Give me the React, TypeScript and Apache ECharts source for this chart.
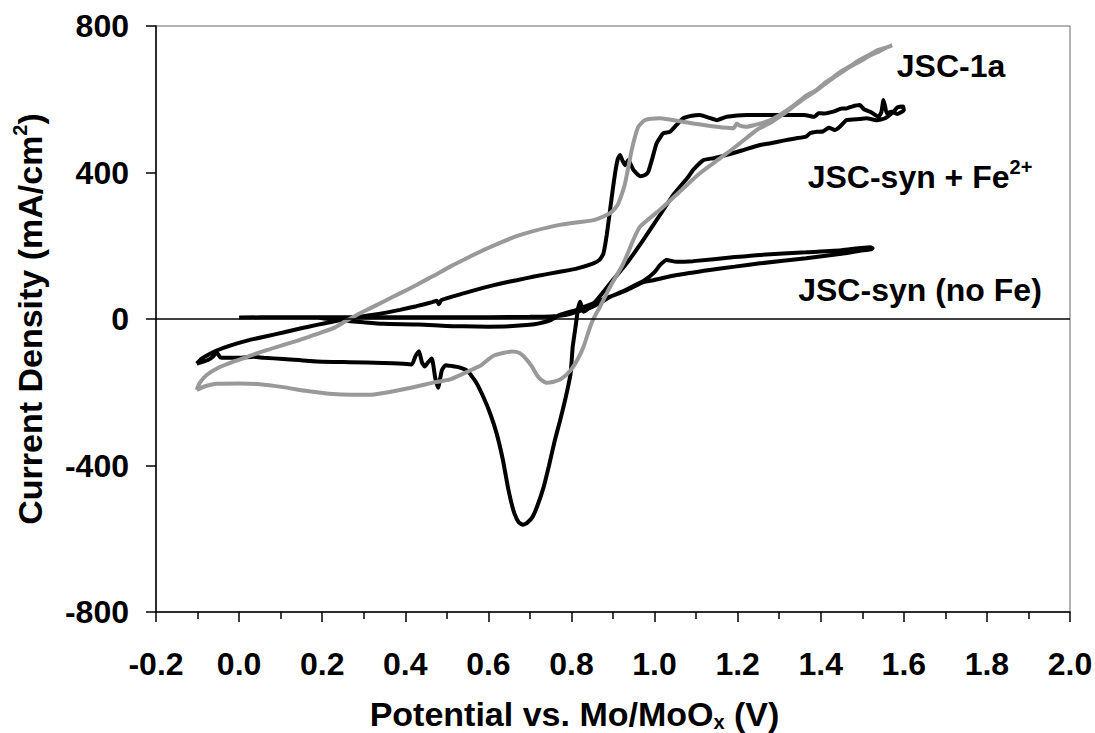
import React, { useEffect, useRef } from "react";
import * as echarts from "echarts";

const FONT = "'Liberation Sans', Arial, Helvetica, sans-serif";

// x-axis (Potential, V) and y-axis (Current density, mA/cm2) scale
const xRange = [-0.2, 2.0];
const xStep = 0.2;
const yRange = [-800, 800];
const yStep = 400;

const seriesNames = ["JSC-syn (no Fe)", "JSC-syn + Fe2+", "JSC-1a"];

// JSC-syn (no Fe) — black
const jscSynNoFe: [number, number][] = [
  [0.0, 4], [0.1, 5], [0.2, 5], [0.3, 5], [0.4, 5], [0.5, 5], [0.6, 5], [0.7, 6], [0.75, 7],
  [0.78, 10], [0.805, 17], [0.85, 33], [0.893, 60], [0.935, 82], [0.975, 105], [1.0, 128],
  [1.013, 147], [1.029, 161], [1.053, 156], [1.093, 158], [1.193, 169], [1.254, 175],
  [1.365, 182], [1.45, 188], [1.52, 196], [1.525, 193], [1.52, 190], [1.494, 186],
  [1.45, 178], [1.365, 166], [1.254, 152], [1.193, 143], [1.133, 134], [1.053, 120],
  [0.997, 106], [0.973, 101], [0.933, 79], [0.893, 61], [0.853, 43], [0.813, 25],
  [0.772, 11], [0.748, -4], [0.722, -12], [0.7, -16], [0.65, -20], [0.6, -21], [0.54, -20],
  [0.5, -19], [0.432, -15], [0.347, -13], [0.3, -9], [0.25, -4], [0.196, 3], [0.19, 6],
];

// JSC-syn + Fe2+ — black
const jscSynFe: [number, number][] = [
  [-0.102, -122], [-0.09, -108], [-0.072, -96], [-0.054, -86], [-0.02, -72], [0.026, -57],
  [0.066, -47], [0.106, -37], [0.147, -26], [0.187, -16], [0.227, -7], [0.267, 2], [0.307, 9],
  [0.347, 16], [0.387, 25], [0.427, 35], [0.465, 46], [0.476, 50], [0.481, 40], [0.487, 52],
  [0.54, 70], [0.587, 85], [0.63, 97], [0.668, 106], [0.71, 116], [0.772, 129], [0.81, 137],
  [0.853, 152], [0.868, 162], [0.877, 179], [0.885, 230], [0.893, 298], [0.899, 350],
  [0.905, 398], [0.911, 435], [0.917, 448], [0.923, 432], [0.929, 420], [0.937, 434],
  [0.949, 407], [0.965, 390], [0.978, 394], [0.985, 402], [0.995, 440], [1.005, 480],
  [1.021, 507], [1.037, 511], [1.053, 530], [1.069, 548], [1.09, 555], [1.109, 557],
  [1.13, 550], [1.15, 543], [1.174, 552], [1.222, 557], [1.25, 557], [1.322, 557],
  [1.36, 557], [1.385, 552], [1.395, 562], [1.408, 561], [1.43, 566], [1.451, 575],
  [1.462, 575], [1.475, 580], [1.494, 584], [1.505, 572], [1.519, 566], [1.539, 552],
  [1.546, 565], [1.551, 598], [1.555, 580], [1.559, 562], [1.57, 566], [1.585, 560],
  [1.6, 570], [1.598, 580], [1.585, 578], [1.575, 566], [1.555, 548], [1.535, 543],
  [1.51, 548], [1.494, 546], [1.462, 543], [1.446, 525], [1.434, 516], [1.42, 522],
  [1.405, 512], [1.391, 511], [1.374, 507], [1.365, 498], [1.339, 493], [1.31, 487],
  [1.279, 480], [1.254, 475], [1.21, 460], [1.174, 448], [1.142, 439], [1.118, 434],
  [1.093, 407], [1.081, 388], [1.045, 339], [1.013, 284], [0.973, 216], [0.933, 152],
  [0.893, 97], [0.861, 52], [0.837, 25], [0.829, 20], [0.821, 47], [0.816, 30], [0.81, -20],
  [0.803, -76], [0.798, -149], [0.785, -220], [0.772, -280], [0.76, -331], [0.746, -400],
  [0.733, -459], [0.718, -510], [0.706, -541], [0.694, -556], [0.683, -562], [0.673, -555],
  [0.663, -532], [0.655, -500], [0.647, -459], [0.635, -385], [0.62, -313], [0.605, -260],
  [0.588, -213], [0.57, -172], [0.55, -142], [0.53, -132], [0.51, -128], [0.497, -126],
  [0.488, -140], [0.479, -188], [0.472, -160], [0.464, -108], [0.455, -118], [0.447, -130],
  [0.44, -118], [0.433, -88], [0.425, -100], [0.416, -124], [0.395, -122], [0.347, -120],
  [0.267, -118], [0.187, -116], [0.106, -109], [0.06, -106], [0.035, -103], [0.0, -106],
  [-0.03, -106], [-0.045, -105], [-0.055, -90], [-0.062, -102], [-0.075, -112],
  [-0.09, -118], [-0.102, -122],
];

// JSC-1a — grey
const jsc1a: [number, number][] = [
  [-0.102, -194], [-0.095, -175], [-0.078, -153], [-0.05, -133], [-0.015, -117], [0.025, -101],
  [0.066, -85], [0.106, -71], [0.147, -57], [0.187, -41], [0.227, -25], [0.255, -7],
  [0.283, 11], [0.315, 29], [0.347, 47], [0.387, 70], [0.427, 93], [0.468, 118], [0.508, 143],
  [0.548, 166], [0.588, 188], [0.628, 208], [0.668, 226], [0.708, 240], [0.772, 257],
  [0.853, 270], [0.875, 279], [0.893, 289], [0.905, 302], [0.913, 316], [0.921, 340],
  [0.929, 370], [0.937, 415], [0.945, 461], [0.953, 498], [0.961, 525], [0.977, 543],
  [1.013, 548], [1.05, 542], [1.093, 534], [1.15, 525], [1.19, 521], [1.198, 534],
  [1.205, 528], [1.222, 525], [1.242, 530], [1.262, 536], [1.279, 543], [1.305, 560],
  [1.331, 580], [1.365, 610], [1.385, 622], [1.408, 643], [1.43, 660], [1.451, 678],
  [1.47, 690], [1.494, 708], [1.515, 720], [1.537, 734], [1.555, 740], [1.572, 747],
  [1.56, 742], [1.54, 730], [1.52, 720], [1.494, 703], [1.47, 688], [1.451, 674], [1.43, 658],
  [1.408, 640], [1.385, 620], [1.365, 606], [1.331, 577], [1.305, 555], [1.279, 536],
  [1.246, 516], [1.206, 480], [1.158, 439], [1.109, 398], [1.061, 348], [1.013, 298],
  [0.965, 252], [0.949, 216], [0.925, 152], [0.893, 88], [0.869, 34], [0.855, 5],
  [0.845, -21], [0.829, -76], [0.815, -110], [0.798, -140], [0.776, -163], [0.755, -172],
  [0.74, -174], [0.728, -167], [0.718, -155], [0.705, -130], [0.69, -108], [0.675, -93],
  [0.658, -89], [0.638, -92], [0.615, -99], [0.6, -110], [0.583, -126], [0.565, -136],
  [0.548, -145], [0.508, -165], [0.47, -173], [0.432, -183], [0.378, -196], [0.325, -206],
  [0.271, -207], [0.217, -204], [0.16, -196], [0.106, -186], [0.05, -178], [0.002, -176],
  [-0.054, -177], [-0.085, -185], [-0.102, -194],
];

const fmtX = (v: number) => {
  const r = Math.round(v * 10) / 10;
  return (Math.abs(r) < 1e-9 ? 0 : r).toFixed(1);
};

const bold = (size: number, extra: any = {}) => ({
  fontSize: size,
  fontWeight: "bold",
  fontFamily: FONT,
  color: "#000",
  ...extra,
});

export default function App() {
  const ref = useRef<HTMLDivElement>(null);
  useEffect(() => {
    if (!ref.current) return;
    const chart = echarts.init(ref.current, undefined, { renderer: "svg" });
    const lineCommon = {
      type: "line" as const,
      showSymbol: false,
      symbol: "none",
      smooth: 0.2,
      animation: false,
      silent: true,
    };
    chart.setOption({
      animation: false,
      backgroundColor: "#fff",
      grid: {
        left: 156,
        right: 25,
        top: 26,
        bottom: 121,
        show: true,
        borderColor: "#666",
        borderWidth: 1,
        outerBoundsMode: "none",
        containLabel: false,
      },
      xAxis: {
        type: "value",
        min: xRange[0],
        max: xRange[1],
        interval: xStep,
        axisLine: { show: true, onZero: false, lineStyle: { color: "#000", width: 1.5 } },
        axisTick: { show: true, inside: false, length: 10, lineStyle: { color: "#000", width: 1.5 } },
        minorTick: { show: true, splitNumber: 2, length: 7, lineStyle: { color: "#000", width: 1.5 } },
        splitLine: { show: false },
        minorSplitLine: { show: false },
        axisLabel: { ...bold(32), margin: 36, formatter: fmtX, showMinLabel: true, showMaxLabel: true },
        name: "{a|Potential vs. Mo/MoO}{sub|x}{a| (V)}",
        nameLocation: "middle",
        nameGap: 84,
        nameTextStyle: {
          ...bold(34),
          padding: [0, 77, 0, 0],
          rich: {
            a: bold(34, { lineHeight: 36 }),
            sub: bold(20, { lineHeight: 18, verticalAlign: "bottom" }),
          },
        },
      },
      yAxis: {
        type: "value",
        min: yRange[0],
        max: yRange[1],
        interval: yStep,
        axisLine: { show: true, onZero: false, lineStyle: { color: "#000", width: 1.5 } },
        axisTick: { show: true, inside: false, length: 10, lineStyle: { color: "#000", width: 1.5 } },
        splitLine: { show: false },
        axisLabel: { ...bold(32), margin: 27, showMinLabel: true, showMaxLabel: true },
        name: "{a|Current Density (mA/cm}{sup|2}{a|)}",
        nameLocation: "middle",
        nameGap: 106,
        nameTextStyle: {
          ...bold(34),
          rich: {
            a: bold(34, { lineHeight: 40 }),
            sup: bold(20, { lineHeight: 24, verticalAlign: "top" }),
          },
        },
      },
      series: [
        {
          type: "line",
          data: [],
          silent: true,
          markLine: {
            silent: true,
            symbol: ["none", "none"],
            label: { show: false },
            lineStyle: { color: "#000", width: 1.5, type: "solid" },
            data: [{ yAxis: 0 }],
          },
        },
        {
          ...lineCommon,
          name: seriesNames[0],
          data: jscSynNoFe,
          lineStyle: { color: "#000", width: 4 },
        },
        {
          ...lineCommon,
          name: seriesNames[1],
          data: jscSynFe,
          smooth: 0.15,
          lineStyle: { color: "#000", width: 4 },
        },
        {
          ...lineCommon,
          name: seriesNames[2],
          data: jsc1a,
          lineStyle: { color: "#999", width: 4 },
        },
      ],
      graphic: [
        {
          type: "text",
          x: 951,
          y: 66,
          silent: true,
          style: {
            text: "JSC-1a",
            font: `bold 32px ${FONT}`,
            fill: "#000",
            align: "center",
            verticalAlign: "middle",
            textAlign: "center",
            textVerticalAlign: "middle",
          },
        },
        {
          type: "text",
          x: 920,
          y: 177,
          silent: true,
          style: {
            text: "{a|JSC-syn + Fe}{sup|2+}",
            font: `bold 32px ${FONT}`,
            fill: "#000",
            align: "center",
            verticalAlign: "middle",
            textAlign: "center",
            textVerticalAlign: "middle",
            rich: {
              a: { fontSize: 32, fontWeight: "bold", fontFamily: FONT, fill: "#000", lineHeight: 40 },
              sup: { fontSize: 20, fontWeight: "bold", fontFamily: FONT, fill: "#000", lineHeight: 24, verticalAlign: "top" },
            },
          },
        },
        {
          type: "text",
          x: 920,
          y: 290,
          silent: true,
          style: {
            text: "JSC-syn (no Fe)",
            font: `bold 32px ${FONT}`,
            fill: "#000",
            align: "center",
            verticalAlign: "middle",
            textAlign: "center",
            textVerticalAlign: "middle",
          },
        },
      ],
    });
    return () => chart.dispose();
  }, []);
  return (
    <div
      ref={ref}
      style={{ position: "fixed", left: 0, top: 0, width: 1095, height: 733, background: "#fff" }}
    />
  );
}
